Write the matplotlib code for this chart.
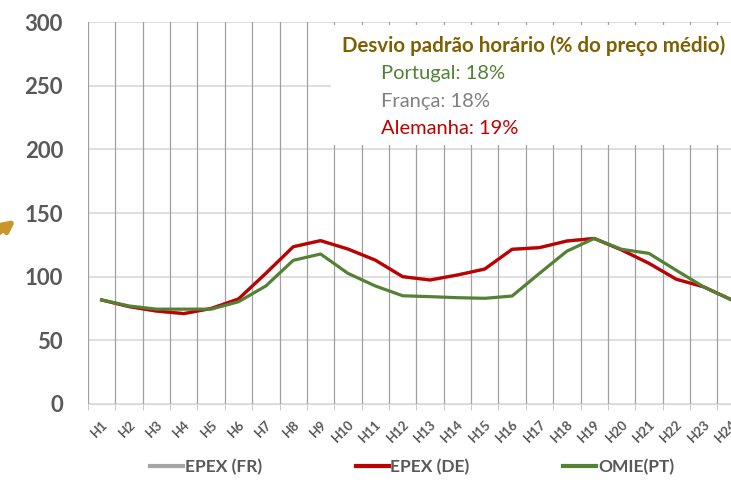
import matplotlib.pyplot as plt
from matplotlib.patches import Rectangle
from matplotlib.lines import Line2D
import numpy as np

plt.rcParams['font.family'] = ['Lato', 'DejaVu Sans']

hours = ['H%d' % i for i in range(1, 25)]
epex_de = [81.7, 76.5, 73, 71, 75, 82.5, 102.6, 123.5, 128.3, 121.7, 113, 100,
           97.4, 101.3, 106, 121.5, 122.8, 128, 130, 121, 110.5, 98, 92, 82]
omie_pt = [81.7, 77, 74.5, 74.5, 74.5, 80.3, 92.7, 112.8, 117.8, 102.6, 92.7, 85,
           84.3, 83.5, 83, 84.8, 102.6, 120, 130, 121.5, 118.3, 105, 92, 82]
# FR series is hidden under the other two in the source chart
epex_fr = list(epex_de)

c_fr = '#a5a5a5'
c_de = '#c00000'
c_pt = '#548235'
txt = '#595959'

fig = plt.figure(figsize=(7.31, 4.82), dpi=100)
ax = fig.add_axes([88/731, 78/482, 1 - 88/731, 382/482])

x = np.arange(len(hours))
ax.plot(x, epex_fr, color=c_fr, lw=2.3, zorder=3)
ax.plot(x, epex_de, color=c_de, lw=2.3, zorder=4)
ax.plot(x, omie_pt, color=c_pt, lw=2.3, zorder=5)

ax.set_xlim(-0.5, 22.54)
ax.set_ylim(0, 300)
ax.set_yticks(range(0, 301, 50))
ax.set_xticks(x)
ax.set_xticklabels(hours, rotation=45, ha='right', rotation_mode='anchor',
                   fontsize=9.5, fontweight='bold', color=txt)
ax.tick_params(axis='x', length=0, pad=10)
ax.tick_params(axis='y', length=0, pad=18, labelsize=16, labelcolor=txt)
for lab in ax.get_yticklabels():
    lab.set_fontweight('bold')

ax.set_axisbelow(True)
ax.grid(axis='y', color='#d9d9d9', lw=1.2)
for b in np.arange(-0.5, 23, 1):
    ax.axvline(b, color='#a0a0a0', lw=0.9, zorder=0.6)
ax.set_xticks(np.arange(-0.5, 23, 1), minor=True)
ax.tick_params(axis='x', which='minor', length=4, color='#bfbfbf')
for s in ['top', 'right', 'left']:
    ax.spines[s].set_visible(False)
ax.spines['bottom'].set_color('#d9d9d9')

# white text box over the grid
box = Rectangle((331/731, (482-145)/482), 1, 120/482, transform=fig.transFigure,
                facecolor='white', edgecolor='none', zorder=1)
ax.add_patch(box)
fig.text(342/731, 1 - 46/482, 'Desvio padrão horário (% do preço médio)',
         color='#7f6000', fontsize=14.8, fontweight='bold', va='center')
fig.text(381/731, 1 - 73/482, 'Portugal: 18%', color=c_pt, fontsize=14.5, va='center')
fig.text(381/731, 1 - 101/482, 'França: 18%', color='#808080', fontsize=14.5, va='center')
fig.text(381/731, 1 - 128/482, 'Alemanha: 19%', color=c_de, fontsize=14.5, va='center')

# arrow at the left edge
ax.annotate('', xy=(18, 264), xycoords='figure pixels', xytext=(-8, 244),
            textcoords='figure pixels', annotation_clip=False,
            arrowprops=dict(arrowstyle='-|>', color='#c9962b', lw=4, mutation_scale=16))

handles = [Line2D([], [], color=c_fr, lw=3), Line2D([], [], color=c_de, lw=3),
           Line2D([], [], color=c_pt, lw=3)]
leg = fig.legend(handles, ['EPEX (FR)', 'EPEX (DE)', 'OMIE(PT)'], loc='center',
                 bbox_to_anchor=(412/731, 1 - 467/482), ncol=3, frameon=False,
                 handlelength=1.9, handletextpad=0.1, columnspacing=5.4,
                 prop={'size': 12.5, 'weight': 'bold'})
for t in leg.get_texts():
    t.set_color(txt)

fig.savefig('out.png', dpi=100)
